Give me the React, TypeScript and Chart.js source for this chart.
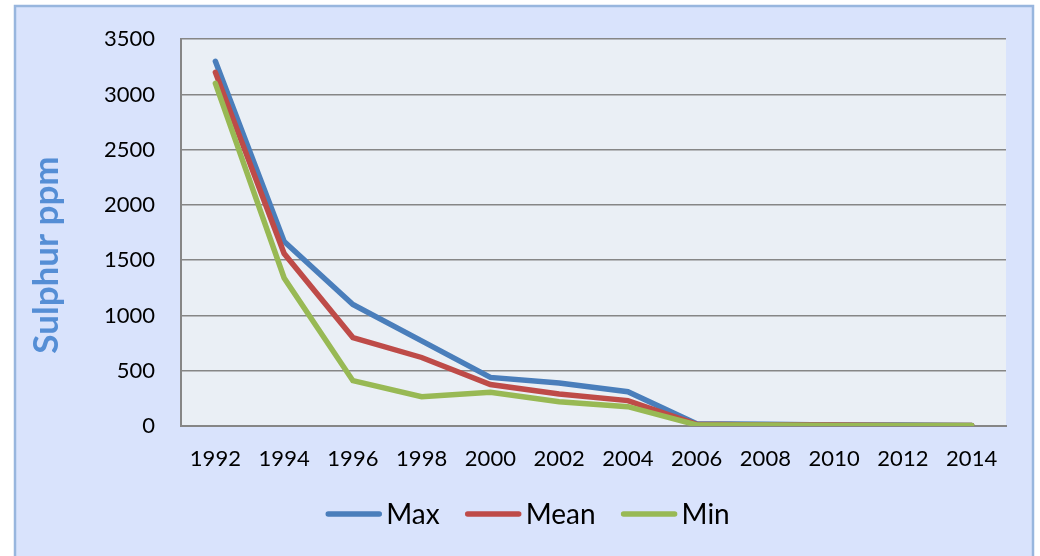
import React, { useEffect, useRef } from "react";
import { Chart, registerables } from "chart.js";

Chart.register(...registerables);

const years = ["1992", "1994", "1996", "1998", "2000", "2002", "2004", "2006", "2008", "2010", "2012", "2014"];
const maxValues = [3300, 1670, 1100, 770, 440, 390, 310, 20, 15, 10, 8, 5];
const meanValues = [3200, 1560, 800, 620, 375, 290, 230, 15, 10, 8, 5, 5];
const minValues = [3100, 1340, 410, 265, 305, 220, 175, 10, 10, 5, 5, 5];
const seriesNames = ["Max", "Mean", "Min"];
const seriesColors = ["#4a7ebb", "#be4b48", "#98b954"];
const yTitle = "Sulphur ppm";

const FONT = "Lato, 'Open Sans', sans-serif";

const decorPlugin = {
  id: "decor",
  beforeDraw(chart: any) {
    const { ctx, chartArea, width, height } = chart;
    ctx.save();
    ctx.fillStyle = "#ffffff";
    ctx.fillRect(0, 0, width, height);
    ctx.fillStyle = "#d9e3fc";
    ctx.fillRect(15, 6, 1018, height);
    ctx.strokeStyle = "#98b6de";
    ctx.lineWidth = 2.5;
    ctx.strokeRect(15, 6, 1018, height + 10);
    ctx.fillStyle = "#eaeff5";
    ctx.fillRect(chartArea.left, chartArea.top, chartArea.right - chartArea.left, chartArea.bottom - chartArea.top);
    ctx.restore();
  },
  afterDraw(chart: any) {
    const { ctx } = chart;
    ctx.save();
    ctx.translate(47, 255);
    ctx.rotate(-Math.PI / 2);
    ctx.font = "bold 35px " + FONT;
    ctx.fillStyle = "#558ed5";
    ctx.textAlign = "center";
    ctx.textBaseline = "middle";
    ctx.fillText(yTitle, 0, 0);
    ctx.restore();

    ctx.save();
    ctx.font = "28px " + FONT;
    const sw = 55, gap = 5, itemGap = 26;
    const widths = seriesNames.map((n) => ctx.measureText(n).width);
    const total = widths.reduce((a, b) => a + b, 0) + seriesNames.length * (sw + gap) + (seriesNames.length - 1) * itemGap;
    let x = 528 - total / 2;
    const y = 514;
    seriesNames.forEach((n, i) => {
      ctx.strokeStyle = seriesColors[i];
      ctx.lineWidth = 5.5;
      ctx.lineCap = "round";
      ctx.beginPath();
      ctx.moveTo(x + 2, y);
      ctx.lineTo(x + sw - 2, y);
      ctx.stroke();
      ctx.fillStyle = "#000000";
      ctx.textAlign = "left";
      ctx.textBaseline = "middle";
      ctx.fillText(n, x + sw + gap, y + 1);
      x += sw + gap + widths[i] + itemGap;
    });
    ctx.restore();
  },
};

export default function App() {
  const ref = useRef<HTMLCanvasElement | null>(null);
  useEffect(() => {
    if (!ref.current) return;
    const allSeries = [maxValues, meanValues, minValues];
    const chart = new Chart(ref.current, {
      type: "line",
      data: {
        labels: years,
        datasets: allSeries.map((d, i) => ({
          label: seriesNames[i],
          data: d,
          borderColor: seriesColors[i],
          backgroundColor: seriesColors[i],
          borderWidth: 5.5,
          pointRadius: 0,
          tension: 0,
          borderCapStyle: "round" as const,
          borderJoinStyle: "miter" as const,
          order: 2 - i,
        })),
      },
      options: {
        animation: false,
        responsive: false,
        maintainAspectRatio: false,
        layout: { padding: { left: 0, top: 36, right: 34, bottom: 0 } },
        plugins: {
          legend: { display: false },
          tooltip: { enabled: false },
        },
        scales: {
          x: {
            offset: true,
            grid: { display: false, drawTicks: false },
            border: { display: true, color: "#868686", width: 2 },
            ticks: { color: "#000000", font: { family: FONT, size: 22 }, padding: 20, maxRotation: 0, autoSkip: false },
            afterFit: (s: any) => { s.height = 130; },
          },
          y: {
            min: 0,
            max: 3500,
            grid: { color: "#868686", lineWidth: 1.5, drawTicks: false },
            border: { display: true, color: "#868686", width: 2 },
            ticks: {
              stepSize: 500,
              color: "#000000",
              font: { family: FONT, size: 22 },
              padding: 26,
              callback: (v: any) => String(v),
            },
            afterFit: (s: any) => { s.width = 181; },
          },
        },
      },
      plugins: [decorPlugin],
    });
    return () => chart.destroy();
  }, []);
  return (
    <div style={{ position: "fixed", left: 0, top: 0, width: 1040, height: 556 }}>
      <canvas ref={ref} width={1040} height={556} style={{ display: "block" }} />
    </div>
  );
}
